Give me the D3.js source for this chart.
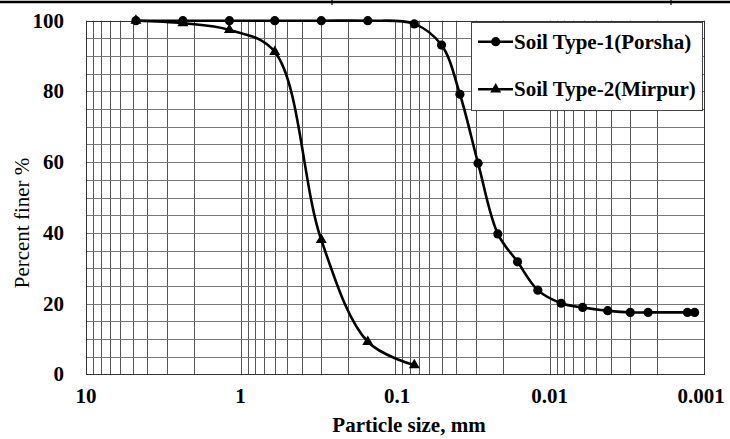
<!DOCTYPE html>
<html><head><meta charset="utf-8">
<script src="https://cdn.jsdelivr.net/npm/d3@7/dist/d3.min.js"></script>
<style>body{margin:0;background:#fff}svg{display:block}</style>
</head><body><svg id="c" width="730" height="439" font-family="Liberation Serif, Times New Roman, serif"></svg>
<script>
// Data
const sizes1 = [4.75, 2.36, 1.18, 0.6, 0.3, 0.15, 0.075, 0.05, 0.038, 0.029, 0.0216, 0.0161, 0.0119, 0.0084, 0.0061, 0.0042, 0.003, 0.0023, 0.00128, 0.00115];
const finer1 = [100, 100, 100, 100, 100, 100, 99.1, 93.1, 79.2, 59.7, 39.7, 31.8, 23.8, 20.1, 18.9, 18.0, 17.5, 17.5, 17.5, 17.5];
const sizes2 = [4.75, 2.36, 1.18, 0.6, 0.3, 0.15, 0.075];
const finer2 = [100, 99.3, 97.4, 91.2, 38.0, 9.2, 2.6];
const xTicks = [10, 1, 0.1, 0.01, 0.001];
const xTickLabels = ["10", "1", "0.1", "0.01", "0.001"];
const yTicks = [0, 20, 40, 60, 80, 100];
const seriesNames = ["Soil Type-1(Porsha)", "Soil Type-2(Mirpur)"];

const svg = d3.select("#c");
const FF = "Liberation Serif, Times New Roman, serif";
const L = 86, R = 704, T = 20.7, B = 374.3;
const x = d3.scaleLog().domain([10, 0.001]).range([L, R]);
const y = d3.scaleLinear().domain([0, 100]).range([B, T]);

// top document border
svg.append("line").attr("x1",0).attr("x2",730).attr("y1",2).attr("y2",2).attr("stroke","#000").attr("stroke-width",2.6);
[332, 671].forEach(v=>svg.append("line").attr("x1",v).attr("x2",v).attr("y1",0).attr("y2",5).attr("stroke","#000").attr("stroke-width",1.2));

// grid
const g = svg.append("g");
const vgrid = [];
for (let k = -3; k <= 0; k++) for (let d = 1; d <= 9; d++) vgrid.push(d * Math.pow(10, k));
vgrid.push(10);
g.selectAll(".vg").data(vgrid).join("line")
  .attr("x1", d=>Math.round(x(d))+0.5).attr("x2", d=>Math.round(x(d))+0.5)
  .attr("y1", T).attr("y2", B).attr("stroke", "#555").attr("stroke-width", 1);
g.selectAll(".hg").data(d3.range(0, 101, 5)).join("line")
  .attr("x1", L).attr("x2", R)
  .attr("y1", d=>Math.round(y(d))+0.5).attr("y2", d=>Math.round(y(d))+0.5)
  .attr("stroke", "#777").attr("stroke-width", 1);
svg.append("rect").attr("x", L+0.5).attr("y", Math.round(T)+0.5).attr("width", R-L).attr("height", Math.round(B)-Math.round(T))
  .attr("fill","none").attr("stroke","#333").attr("stroke-width",1);

// axes labels
svg.append("g").selectAll("text").data(yTicks).join("text")
  .attr("x", 64).attr("y", d=>y(d)+7).attr("text-anchor","end").attr("font-family",FF)
  .attr("font-size", 21).attr("font-weight","bold").text(d=>d);
svg.append("g").selectAll("text").data(xTicks).join("text")
  .attr("x", (d,i)=>x(d) + (i===4?-3:(i===2?2:0))).attr("y", 403).attr("text-anchor","middle").attr("font-family",FF)
  .attr("font-size", 21).attr("font-weight","bold").text((d,i)=>xTickLabels[i]);
svg.append("text").attr("x", 409).attr("y", 432).attr("text-anchor","middle").attr("font-family",FF)
  .attr("font-size", 21).attr("font-weight","bold").text("Particle size, mm");
svg.append("text").attr("transform","translate(29,223) rotate(-90)").attr("text-anchor","middle").attr("font-family",FF)
  .attr("font-size", 21).text("Percent finer %");

// series
const line = d3.line().x(d=>x(d[0])).y(d=>y(d[1])).curve(d3.curveCatmullRom.alpha(0.5));
const d1 = sizes1.map((s,i)=>[s, finer1[i]]);
const d2 = sizes2.map((s,i)=>[s, finer2[i]]);
svg.append("path").attr("d", line(d2)).attr("fill","none").attr("stroke","#000").attr("stroke-width",2.6);
svg.append("path").attr("d", line(d1)).attr("fill","none").attr("stroke","#000").attr("stroke-width",2.6);
const tri = d3.symbol().type(d3.symbolTriangle).size(52);
svg.append("g").selectAll("path").data(d2).join("path")
  .attr("d", tri).attr("transform", d=>`translate(${x(d[0])},${y(d[1])})`).attr("fill","#000");
svg.append("g").selectAll("circle").data(d1).join("circle")
  .attr("cx", d=>x(d[0])).attr("cy", d=>y(d[1])).attr("r", 4.6).attr("fill","#000");

// legend
const lg = svg.append("g");
lg.append("rect").attr("x",471.5).attr("y",22.5).attr("width",231).attr("height",88).attr("fill","#fff").attr("stroke","#444").attr("stroke-width",1);
const ly = [41.7, 89.3];
ly.forEach((yy,i)=>{
  lg.append("line").attr("x1",478).attr("x2",513).attr("y1",yy).attr("y2",yy).attr("stroke","#000").attr("stroke-width",2.6);
  if (i===0) lg.append("circle").attr("cx",495.7).attr("cy",yy).attr("r",4.6).attr("fill","#000");
  else lg.append("path").attr("d",tri).attr("transform",`translate(495.7,${yy})`).attr("fill","#000");
  lg.append("text").attr("x",514).attr("y",yy+7).attr("font-family",FF).attr("font-size",21).attr("font-weight","bold").text(seriesNames[i]);
});
</script></body></html>
